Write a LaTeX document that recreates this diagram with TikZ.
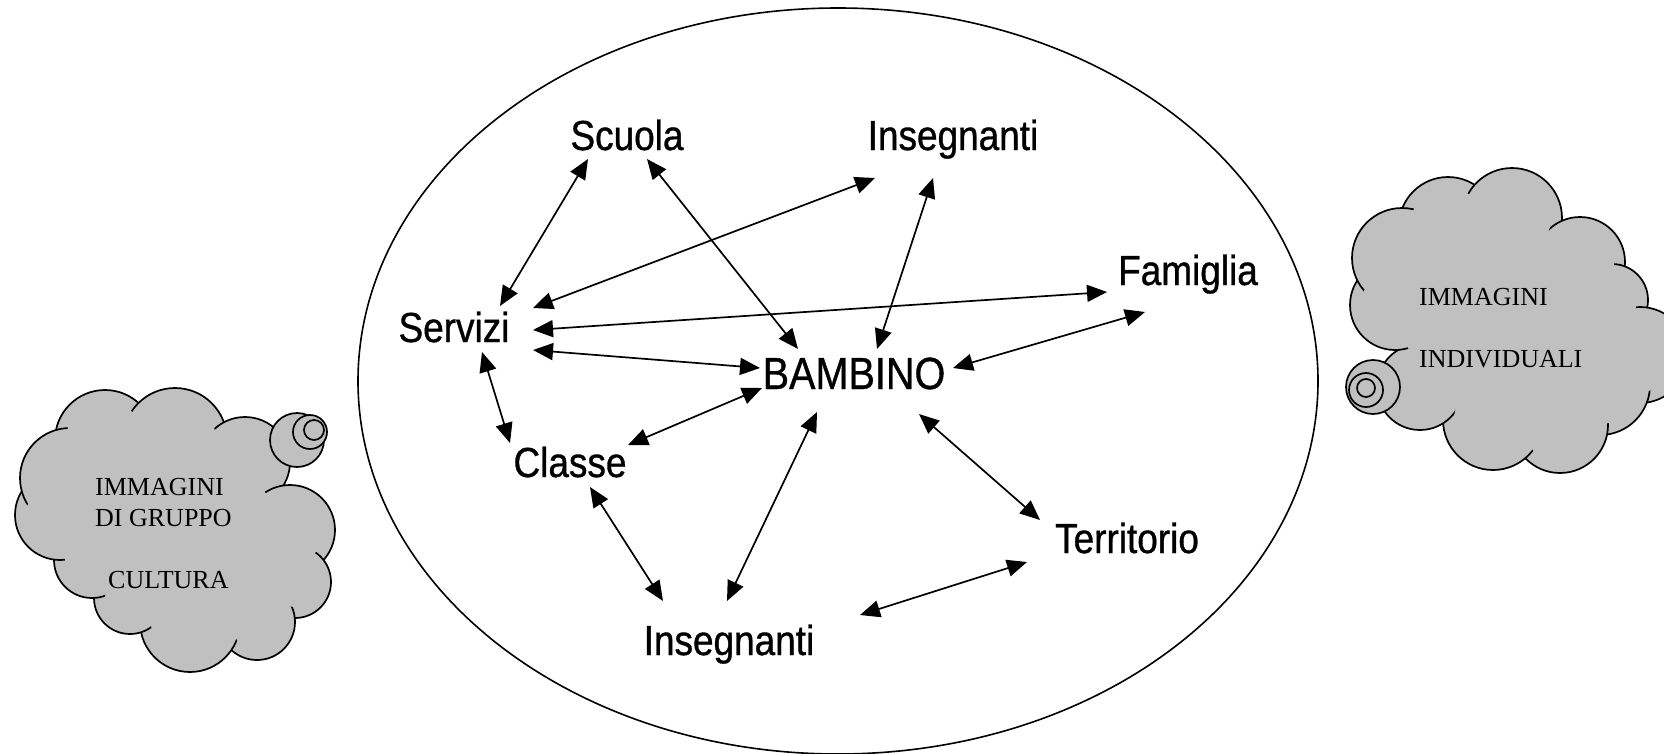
\documentclass[tikz,border=0pt]{standalone}
\usepackage{fontspec}
\newfontfamily\labfont[FakeStretch=0.88,FakeBold=0.8]{Liberation Sans}
\newfontfamily\cloudfont{Liberation Serif}
\usetikzlibrary{arrows.meta}
\definecolor{cloudgray}{RGB}{192,192,192}
\begin{document}
\begin{tikzpicture}[x=1pt,y=-1pt,
  lbl/.style={inner sep=0pt, anchor=base, font=\labfont\fontsize{42}{48}\selectfont},
  biglbl/.style={inner sep=0pt, anchor=base, font=\labfont\fontsize{45}{52}\selectfont},
  biarrow/.style={{Triangle[length=20pt,width=17pt]}-{Triangle[length=20pt,width=17pt]}, line width=1.7pt},
  bump/.style={fill=cloudgray, draw=black, line width=1.7pt},
  ctext/.style={inner sep=0pt, anchor=base west, font=\cloudfont\fontsize{26}{30}\selectfont}]
\useasboundingbox (0,0) rectangle (1664,753);
\fill[white] (0,0) rectangle (1664,753);

% big ellipse
\draw[line width=1.6pt] (838,381) ellipse[x radius=480, y radius=373];

% labels
\node[lbl] (scuola) at (627,150) {Scuola};
\node[lbl] (insT) at (953,150) {Insegnanti};
\node[lbl] (famiglia) at (1188,285) {Famiglia};
\node[lbl] (servizi) at (454,342) {Servizi};
\node[biglbl] (bambino) at (854,389) {BAMBINO};
\node[lbl] (classe) at (570,477) {Classe};
\node[lbl] (territorio) at (1127,553) {Territorio};
\node[lbl] (insB) at (729,655) {Insegnanti};

% connectors
\draw[biarrow] ([shift={(46,-36)}]servizi.base) -- ([shift={(-39,9)}]scuola.base);
\draw[biarrow] ([shift={(20,9)}]scuola.base) -- ([shift={(-56,-40)}]bambino.base);
\draw[biarrow] ([shift={(79,-34)}]servizi.base) -- ([shift={(-78,28)}]insT.base);
\draw[biarrow] ([shift={(-20,28)}]insT.base) -- ([shift={(23,-40)}]bambino.base);
\draw[biarrow] ([shift={(79,-12)}]servizi.base) -- ([shift={(-81,7)}]famiglia.base);
\draw[biarrow] ([shift={(79,8)}]servizi.base) -- ([shift={(-94,-21)}]bambino.base);
\draw[biarrow] ([shift={(99,-21)}]bambino.base) -- ([shift={(-43,27)}]famiglia.base);
\draw[biarrow] ([shift={(28,10)}]servizi.base) -- ([shift={(-60,-34)}]classe.base);
\draw[biarrow] ([shift={(58,-32)}]classe.base) -- ([shift={(-92,-1)}]bambino.base);
\draw[biarrow] ([shift={(-37,23)}]bambino.base) -- ([shift={(-2,-54)}]insB.base);
\draw[biarrow] ([shift={(20,10)}]classe.base) -- ([shift={(-66,-54)}]insB.base);
\draw[biarrow] ([shift={(65,25)}]bambino.base) -- ([shift={(-87,-33)}]territorio.base);
\draw[biarrow] ([shift={(-100,9)}]territorio.base) -- ([shift={(131,-40)}]insB.base);

% left cloud
\def\leftbumps{105/440/50, 175/440/52, 245/462/45, 290/530/45, 295/582/36, 257/622/38, 190/622/50, 130/598/36, 92/560/38, 60/515/45, 70/478/50}
\foreach \cx/\cy/\r in \leftbumps
  \draw[bump] (\cx,\cy) circle[radius=\r];
\fill[cloudgray] (105,440) -- (175,440) -- (245,462) -- (290,530) -- (295,582) -- (257,622) -- (190,622) -- (130,598) -- (92,560) -- (60,515) -- (70,478) -- cycle;
\foreach \cx/\cy/\r in \leftbumps
  \fill[cloudgray] (\cx,\cy) circle[radius={\r-11}];
\node[ctext] (lc1) at (95,495) {IMMAGINI};
\node[ctext] (lc2) at (95,526) {DI GRUPPO};
\node[ctext] (lc3) at (108,588) {CULTURA};
\draw[bump] (297,440) circle[radius=27];
\draw[bump] (310,432) circle[radius=17];
\draw[bump] (314,430) circle[radius=10];

% right cloud
\def\rightbumps{1448/226/49, 1512/218/50, 1580/262/45, 1612/300/36, 1640/355/48, 1600/385/50, 1560/425/48, 1493/420/50, 1420/387/43, 1395/305/45, 1402/258/50}
\foreach \cx/\cy/\r in \rightbumps
  \draw[bump] (\cx,\cy) circle[radius=\r];
\fill[cloudgray] (1448,226) -- (1512,218) -- (1580,262) -- (1612,300) -- (1640,355) -- (1600,385) -- (1560,425) -- (1493,420) -- (1420,387) -- (1395,305) -- (1402,258) -- cycle;
\foreach \cx/\cy/\r in \rightbumps
  \fill[cloudgray] (\cx,\cy) circle[radius={\r-11}];
\node[ctext] (rc1) at (1419,305) {IMMAGINI};
\node[ctext] (rc2) at (1419,367) {INDIVIDUALI};
\draw[bump] (1373,387) circle[radius=27];
\draw[bump] (1366,390) circle[radius=17];
\draw[bump] (1366,388) circle[radius=9];
\end{tikzpicture}
\end{document}
